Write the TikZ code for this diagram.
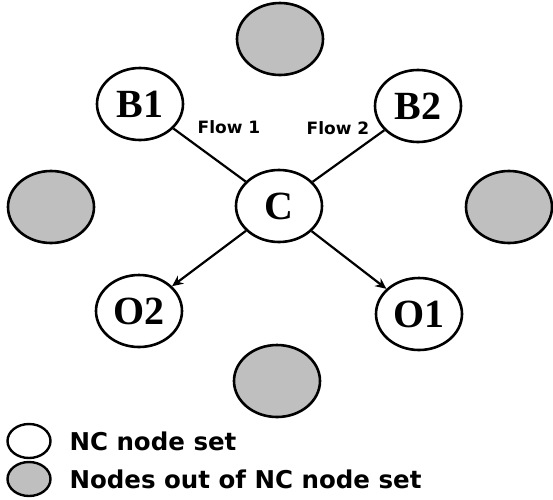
\documentclass[tikz,border=0pt]{standalone}
\usepackage{fontspec}
\setmainfont{Liberation Serif}
\setsansfont{DejaVu Sans}
\usetikzlibrary{shapes.geometric,arrows.meta}
\tikzset{
  ncnode/.style={ellipse, draw, line width=2.6pt, fill=white, minimum width=86pt,
    minimum height=72pt, inner sep=0pt, font=\fontsize{40}{40}\selectfont\bfseries},
  outnode/.style={ncnode, fill=black!25},
  keynode/.style={ellipse, draw, line width=2.4pt, minimum width=43pt, minimum height=34pt, inner sep=0pt},
  flowlabel/.style={font=\sffamily\bfseries\fontsize{17}{17}\selectfont},
  keylabel/.style={anchor=west, font=\sffamily\bfseries\fontsize{24.5}{25}\selectfont},
  link/.style={line width=2.2pt},
}
\begin{document}
\begin{tikzpicture}[x=1pt, y=-1pt]
\useasboundingbox (0,0) rectangle (553,499);
% nodes out of the set
\node[outnode] (top)    at (280, 39)  {};
\node[outnode] (left)   at (51, 207)  {};
\node[outnode] (right)  at (509, 207) {};
\node[outnode] (bottom) at (277, 381) {};
% NC node set
\node[ncnode] (c)  at (279, 206) {C};
\node[ncnode] (b1) at (140, 104) {B1};
\node[ncnode] (b2) at (418, 106) {B2};
\node[ncnode] (o2) at (139, 311) {O2};
\node[ncnode] (o1) at (419, 314) {O1};
% flows
\draw[link] (b1) -- (c);
\draw[link] (b2) -- (c);
\draw[link, -{Stealth[length=11pt, width=10pt]}] (c) -- (o2);
\draw[link, -{Stealth[length=11pt, width=10pt]}] (c) -- (o1);
\node[flowlabel] (f1) at (229, 127) {Flow 1};
\node[flowlabel] (f2) at (338, 128) {Flow 2};
% legend
\node[keynode] (k1) at (29, 441) {};
\node[keynode, fill=black!25] (k2) at (29, 479) {};
\node[keylabel] (t1) at (66, 441) {NC node set};
\node[keylabel] (t2) at (66, 479) {Nodes out of NC node set};
\end{tikzpicture}
\end{document}
